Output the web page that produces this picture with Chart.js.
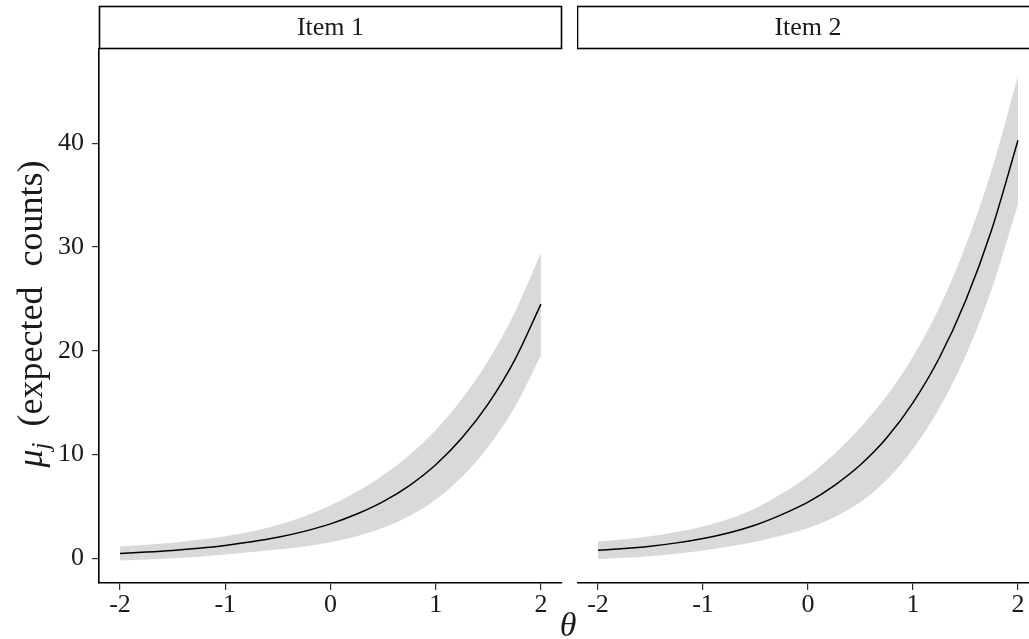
<!DOCTYPE html>
<html>
<head>
<meta charset="utf-8">
<script src="https://cdn.jsdelivr.net/npm/chart.js@4"></script>
<style>
  html, body { margin: 0; padding: 0; background: #fff; overflow: hidden; width: 1029px; height: 639px; }
  #left { position: absolute; left: 0; top: 0; }
  #right { position: absolute; left: 577px; top: 0; }
</style>
</head>
<body>
<canvas id="left" width="577" height="639"></canvas>
<canvas id="right" width="470" height="639"></canvas>
<script>
// theta grid and the curves
const theta = [-2, -1.75, -1.5, -1.25, -1, -0.75, -0.5, -0.25, 0, 0.25, 0.5, 0.75, 1, 1.25, 1.5, 1.75, 2];

const item1Mean  = [0.45, 0.58, 0.74, 0.95, 1.22, 1.57, 2.01, 2.58, 3.3, 4.25, 5.45, 7.0, 9.0, 11.6, 14.9, 19.1, 24.5];
const item1Upper = [1.13, 1.29, 1.49, 1.76, 2.10, 2.56, 3.19, 4.03, 5.08, 6.39, 7.98, 9.94, 12.35, 15.36, 19.06, 23.66, 29.45];
const item1Lower = [-0.23, -0.13, -0.01, 0.14, 0.34, 0.58, 0.83, 1.13, 1.52, 2.11, 2.92, 4.06, 5.65, 7.84, 10.74, 14.54, 19.55];

const item2Mean  = [0.75, 0.93, 1.15, 1.47, 1.9, 2.45, 3.2, 4.2, 5.4, 7.0, 9.0, 11.6, 15.0, 19.3, 24.8, 31.7, 40.3];
const item2Upper = [1.60, 1.83, 2.11, 2.51, 3.06, 3.79, 4.82, 6.22, 7.90, 10.05, 12.60, 15.65, 19.45, 24.15, 30.10, 37.45, 46.50];
const item2Lower = [-0.10, 0.03, 0.19, 0.43, 0.74, 1.11, 1.58, 2.18, 2.90, 3.95, 5.40, 7.55, 10.55, 14.45, 19.50, 25.95, 34.10];

const panelTitles = ['Item 1', 'Item 2'];
const xTicks = [-2, -1, 0, 1, 2];
const yTicks = [0, 10, 20, 30, 40];

const serif = 'Liberation Serif';

function pts(ys) {
    return theta.map((t, i) => ({ x: t, y: ys[i] }));
}

// strip on top of each panel, plus axis titles on the left one
const decor = {
    id: 'decor',
    afterDraw(chart, args, opts) {
        const ctx = chart.ctx;
        const a = chart.chartArea;
        ctx.save();
        ctx.fillStyle = '#fff';
        ctx.fillRect(a.left, 6, a.right - a.left, 43);
        ctx.strokeStyle = '#000';
        ctx.lineWidth = 1.6;
        ctx.strokeRect(a.left + 0.5, 6.5, a.right - a.left - 1, 42);
        ctx.fillStyle = '#1a1a1a';
        ctx.font = '26px "' + serif + '"';
        ctx.textAlign = 'center';
        ctx.textBaseline = 'middle';
        ctx.fillText(opts.title, (a.left + a.right) / 2, 28);

        if (opts.axisTitles) {
            // y title: mu_j (expected counts)
            ctx.translate(42, 314);
            ctx.rotate(-Math.PI / 2);
            ctx.textAlign = 'left';
            ctx.textBaseline = 'alphabetic';
            const muFont = 'italic 36px "' + serif + '"';
            const subFont = 'italic 25px "' + serif + '"';
            const txtFont = '36px "' + serif + '"';
            const w1 = '(expected';
            const w2 = 'counts)';
            ctx.font = muFont;
            const wMu = ctx.measureText('\u03bc').width;
            ctx.font = subFont;
            const wJ = ctx.measureText('j').width;
            ctx.font = txtFont;
            const wA = ctx.measureText(w1).width;
            const wB = ctx.measureText(w2).width;
            const gap1 = 16, gap2 = 20;
            let x = -(wMu + wJ + gap1 + wA + gap2 + wB) / 2;
            ctx.font = muFont;
            ctx.fillText('\u03bc', x, 0);
            x += wMu;
            ctx.font = subFont;
            ctx.fillText('j', x, 7);
            x += wJ + gap1;
            ctx.font = txtFont;
            ctx.fillText(w1, x, 0);
            x += wA + gap2;
            ctx.fillText(w2, x, 0);
            ctx.setTransform(1, 0, 0, 1, 0, 0);

            ctx.font = 'italic 34px "' + serif + '"';
            ctx.textAlign = 'center';
            ctx.textBaseline = 'alphabetic';
            ctx.fillText('\u03b8', 568, 636);
        }
        ctx.restore();
    }
};

function makePanel(id, title, mean, upper, lower, first) {
    const ctx = document.getElementById(id).getContext('2d');
    return new Chart(ctx, {
        type: 'line',
        data: {
            datasets: [
                {
                    data: pts(mean),
                    borderColor: '#000',
                    borderWidth: 1.5,
                    pointRadius: 0,
                    fill: false,
                    cubicInterpolationMode: 'monotone'
                },
                {
                    data: pts(upper),
                    borderWidth: 0,
                    borderColor: 'rgba(0,0,0,0)',
                    backgroundColor: '#d9d9d9',
                    pointRadius: 0,
                    fill: '+1',
                    cubicInterpolationMode: 'monotone'
                },
                {
                    data: pts(lower),
                    borderWidth: 0,
                    borderColor: 'rgba(0,0,0,0)',
                    pointRadius: 0,
                    fill: false,
                    cubicInterpolationMode: 'monotone'
                }
            ]
        },
        options: {
            responsive: false,
            animation: false,
            events: [],
            layout: {
                autoPadding: false,
                padding: { top: 49, right: first ? 15 : 8, left: 0, bottom: 0 }
            },
            plugins: {
                legend: { display: false },
                tooltip: { enabled: false },
                decor: { title: title, axisTitles: first }
            },
            scales: {
                x: {
                    type: 'linear',
                    min: -2.2,
                    max: 2.2,
                    afterBuildTicks: s => { s.ticks = xTicks.map(v => ({ value: v })); },
                    afterFit: s => { s.height = 56; },
                    border: { display: true, color: '#000', width: 1.6 },
                    grid: { drawOnChartArea: false, drawTicks: true, tickLength: 7, tickColor: '#333', lineWidth: 1.2 },
                    ticks: {
                        font: { family: serif, size: 26 },
                        color: '#1a1a1a',
                        padding: 0,
                        maxRotation: 0,
                        callback: v => String(v)
                    }
                },
                y: {
                    type: 'linear',
                    display: first,
                    min: -2.4,
                    max: 49.1,
                    afterBuildTicks: s => { s.ticks = yTicks.map(v => ({ value: v })); },
                    afterFit: s => { s.width = first ? 99 : 0; },
                    border: { display: true, color: '#000', width: 1.6 },
                    grid: { drawOnChartArea: false, drawTicks: true, tickLength: 7, tickColor: '#333', lineWidth: 1.2 },
                    ticks: {
                        font: { family: serif, size: 26 },
                        color: '#1a1a1a',
                        padding: 8,
                        callback: v => String(v)
                    }
                }
            }
        },
        plugins: [decor]
    });
}

makePanel('left', panelTitles[0], item1Mean, item1Upper, item1Lower, true);
makePanel('right', panelTitles[1], item2Mean, item2Upper, item2Lower, false);
</script>
</body>
</html>
